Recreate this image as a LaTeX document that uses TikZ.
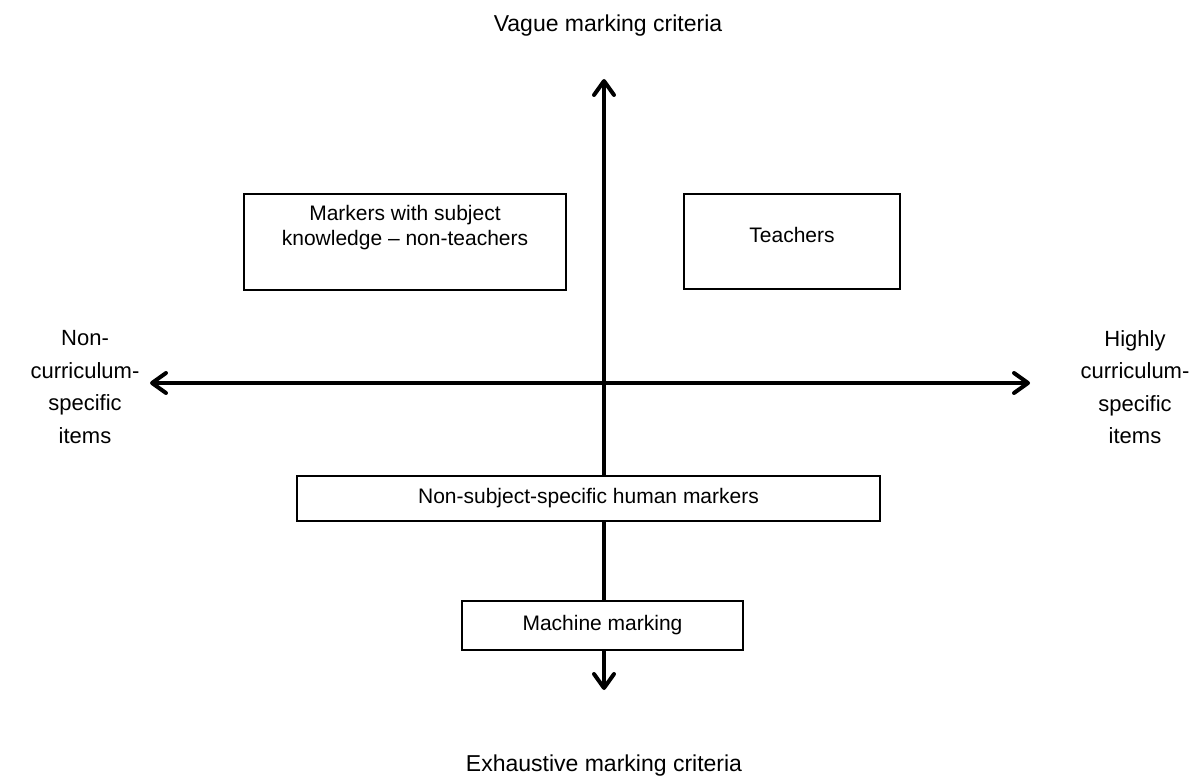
\documentclass[tikz,border=0pt]{standalone}
\usepackage{fontspec}
\setmainfont{Liberation Sans}
\usetikzlibrary{arrows.meta}

\tikzstyle{block} = [rectangle, draw, line width=2pt, fill=white, align=center, inner sep=0pt]
\tikzstyle{axis} = [line width=4pt, {Straight Barb[length=14pt,width=20pt,round]}-{Straight Barb[length=14pt,width=20pt,round]}]
\tikzstyle{endtext} = [align=center, font=\fontsize{22}{32.5}\selectfont]

\begin{document}
\begin{tikzpicture}[x=1pt, y=-1pt, font=\fontsize{21}{25}\selectfont]
        \useasboundingbox (0,0) rectangle (1191,781);
        % Ends of the two axes
        \coordinate (top) at (604,79);
        \coordinate (bottom) at (604,690);
        \coordinate (left) at (150,383);
        \coordinate (right) at (1030,383);
        \draw[axis] (top) -- (bottom);
        \draw[axis] (left) -- (right);
        % Axis labels
        \node (vague) at (608,26) [font=\fontsize{23}{25}\selectfont] {Vague marking criteria};
        \node (exhaustive) at (604,766) [font=\fontsize{23}{25}\selectfont] {Exhaustive marking criteria};
        \node (noncurric) at (85,387) [endtext] {Non-\\curriculum-\\specific\\items};
        \node (curric) at (1135,387) [endtext] {Highly\\curriculum-\\specific\\items};
        % Groups of markers
        \node (subject) at (405,242) [block, minimum width=322pt, minimum height=96pt] {Markers with subject\\knowledge -- non-teachers\\\strut};
        \node (teachers) at (792,241.5) [block, minimum width=216pt, minimum height=95pt, text height=15pt, text depth=13pt] {Teachers};
        \node (human) at (588.5,498.5) [block, minimum width=583pt, minimum height=45pt] {Non-subject-specific human markers};
        \node (machine) at (602.5,625.5) [block, minimum width=281pt, minimum height=49pt] {Machine marking};
    \end{tikzpicture}
\end{document}
